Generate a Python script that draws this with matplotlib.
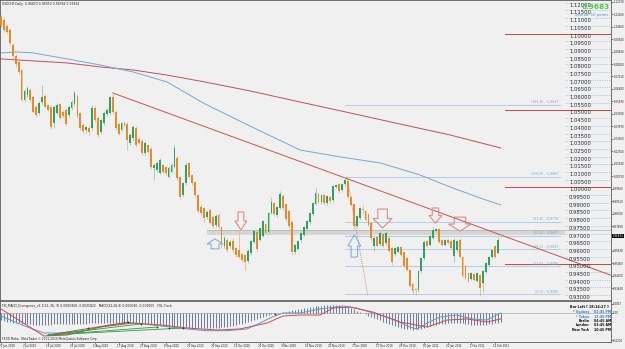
import numpy as np
import matplotlib.pyplot as plt
from matplotlib.patches import Polygon, Rectangle
from matplotlib.transforms import blended_transform_factory as blend

# ---- daily candles, USDCHF, 22 Jun 2010 onwards ----
opens = [1.1108, 1.1088, 1.1049, 1.1023, 1.0926, 1.0854, 1.0815, 1.0763, 1.0568, 1.0601,
         1.0633, 1.0588, 1.0523, 1.0484, 1.0555, 1.0594, 1.0536, 1.0523, 1.0419, 1.0484,
         1.0542, 1.0490, 1.0503, 1.0471, 1.0516, 1.0542, 1.0594, 1.0484, 1.0406, 1.0373,
         1.0386, 1.0386, 1.0516, 1.0451, 1.0360, 1.0419, 1.0477, 1.0484, 1.0588, 1.0490,
         1.0412, 1.0373, 1.0419, 1.0412, 1.0289, 1.0321, 1.0386, 1.0315, 1.0302, 1.0224,
         1.0276, 1.0250, 1.0126, 1.0113, 1.0094, 1.0146, 1.0133, 1.0068, 1.0100, 1.0133,
         1.0191, 1.0068, 0.9951, 1.0029, 1.0159, 1.0081, 1.0035, 0.9951, 0.9873, 0.9866,
         0.9808, 0.9853, 0.9808, 0.9756, 0.9821, 0.9743, 0.9619, 0.9658, 0.9619, 0.9652,
         0.9606, 0.9593, 0.9567, 0.9561, 0.9522, 0.9574, 0.9645, 0.9710, 0.9658, 0.9684,
         0.9762, 0.9710, 0.9834, 0.9899, 0.9821, 0.9866, 0.9944, 0.9892, 0.9847, 0.9775,
         0.9580, 0.9600, 0.9658, 0.9691, 0.9730, 0.9775, 0.9827, 0.9892, 0.9957, 0.9905,
         0.9951, 0.9899, 0.9938, 0.9918, 1.0003, 1.0022, 0.9983, 1.0022, 1.0042, 0.9938,
         0.9892, 0.9749, 0.9801, 0.9860, 0.9847, 0.9827, 0.9769, 0.9619, 0.9678, 0.9632,
         0.9697, 0.9639, 0.9671, 0.9606, 0.9567, 0.9580, 0.9613, 0.9580, 0.9541, 0.9463,
         0.9372, 0.9340, 0.9333, 0.9457, 0.9541, 0.9652, 0.9626, 0.9671, 0.9717, 0.9730,
         0.9658, 0.9626, 0.9658, 0.9652, 0.9554, 0.9593, 0.9658, 0.9548, 0.9489, 0.9444,
         0.9405, 0.9437, 0.9392, 0.9431, 0.9379, 0.9450, 0.9496, 0.9548, 0.9619, 0.9574,
         0.9687]
highs = [1.1121, 1.1108, 1.1062, 1.1036, 1.0939, 1.0867, 1.0828, 1.0770, 1.0640, 1.0659,
         1.0646, 1.0601, 1.0536, 1.0562, 1.0666, 1.0607, 1.0542, 1.0529, 1.0536, 1.0549,
         1.0549, 1.0503, 1.0516, 1.0536, 1.0568, 1.0627, 1.0607, 1.0490, 1.0419, 1.0399,
         1.0399, 1.0536, 1.0529, 1.0464, 1.0445, 1.0497, 1.0516, 1.0594, 1.0614, 1.0503,
         1.0425, 1.0425, 1.0432, 1.0425, 1.0354, 1.0406, 1.0399, 1.0328, 1.0315, 1.0302,
         1.0282, 1.0263, 1.0159, 1.0172, 1.0191, 1.0152, 1.0139, 1.0139, 1.0159, 1.0276,
         1.0204, 1.0074, 1.0035, 1.0165, 1.0165, 1.0087, 1.0042, 0.9957, 0.9886, 0.9873,
         0.9853, 0.9860, 0.9821, 0.9827, 0.9834, 0.9749, 0.9684, 0.9671, 0.9658, 0.9671,
         0.9613, 0.9723, 0.9574, 0.9567, 0.9600, 0.9658, 0.9723, 0.9717, 0.9743, 0.9788,
         0.9769, 0.9840, 0.9938, 0.9905, 0.9879, 0.9977, 0.9957, 0.9899, 0.9853, 0.9788,
         0.9632, 0.9658, 0.9710, 0.9749, 0.9788, 0.9840, 0.9905, 0.9996, 0.9964, 0.9957,
         0.9957, 0.9951, 0.9944, 1.0016, 1.0022, 1.0029, 1.0029, 1.0068, 1.0048, 0.9944,
         0.9899, 0.9821, 0.9873, 0.9886, 0.9853, 0.9834, 0.9775, 0.9678, 0.9684, 0.9717,
         0.9704, 0.9710, 0.9678, 0.9613, 0.9613, 0.9619, 0.9619, 0.9587, 0.9548, 0.9470,
         0.9379, 0.9353, 0.9463, 0.9548, 0.9658, 0.9658, 0.9691, 0.9743, 0.9736, 0.9736,
         0.9665, 0.9665, 0.9665, 0.9658, 0.9671, 0.9658, 0.9671, 0.9554, 0.9496, 0.9450,
         0.9450, 0.9444, 0.9450, 0.9437, 0.9463, 0.9515, 0.9554, 0.9600, 0.9626, 0.9678,
         0.9695]
lows = [1.1043, 1.1010, 1.0997, 1.0926, 1.0841, 1.0789, 1.0737, 1.0562, 1.0555, 1.0588,
        1.0555, 1.0484, 1.0458, 1.0471, 1.0542, 1.0516, 1.0497, 1.0380, 1.0393, 1.0477,
        1.0438, 1.0451, 1.0399, 1.0458, 1.0503, 1.0529, 1.0451, 1.0373, 1.0354, 1.0354,
        1.0341, 1.0373, 1.0425, 1.0328, 1.0347, 1.0406, 1.0464, 1.0471, 1.0477, 1.0373,
        1.0341, 1.0367, 1.0393, 1.0243, 1.0276, 1.0308, 1.0263, 1.0282, 1.0211, 1.0211,
        1.0224, 1.0120, 1.0048, 1.0100, 1.0087, 1.0094, 1.0081, 1.0061, 1.0094, 1.0126,
        1.0048, 0.9925, 0.9938, 1.0016, 1.0061, 1.0016, 0.9938, 0.9834, 0.9821, 0.9775,
        0.9795, 0.9762, 0.9736, 0.9743, 0.9730, 0.9606, 0.9606, 0.9580, 0.9606, 0.9580,
        0.9548, 0.9541, 0.9515, 0.9463, 0.9509, 0.9561, 0.9639, 0.9587, 0.9652, 0.9678,
        0.9697, 0.9697, 0.9827, 0.9814, 0.9808, 0.9860, 0.9853, 0.9782, 0.9736, 0.9561,
        0.9567, 0.9593, 0.9645, 0.9684, 0.9717, 0.9762, 0.9814, 0.9886, 0.9899, 0.9892,
        0.9886, 0.9886, 0.9899, 0.9905, 0.9996, 0.9964, 0.9977, 1.0009, 0.9931, 0.9879,
        0.9736, 0.9736, 0.9788, 0.9827, 0.9782, 0.9749, 0.9658, 0.9587, 0.9613, 0.9619,
        0.9613, 0.9626, 0.9580, 0.9496, 0.9554, 0.9574, 0.9554, 0.9483, 0.9457, 0.9353,
        0.9307, 0.9301, 0.9320, 0.9444, 0.9528, 0.9613, 0.9619, 0.9665, 0.9710, 0.9639,
        0.9619, 0.9619, 0.9632, 0.9600, 0.9515, 0.9580, 0.9541, 0.9418, 0.9405, 0.9385,
        0.9398, 0.9392, 0.9385, 0.9294, 0.9320, 0.9444, 0.9489, 0.9541, 0.9541, 0.9567,
        0.9677]
closes = [1.1056, 1.1023, 1.1010, 1.0939, 1.0854, 1.0802, 1.0750, 1.0568, 1.0627, 1.0646,
          1.0568, 1.0490, 1.0471, 1.0549, 1.0588, 1.0523, 1.0503, 1.0393, 1.0523, 1.0536,
          1.0451, 1.0464, 1.0412, 1.0523, 1.0555, 1.0614, 1.0464, 1.0386, 1.0367, 1.0393,
          1.0360, 1.0516, 1.0438, 1.0341, 1.0438, 1.0484, 1.0503, 1.0588, 1.0490, 1.0386,
          1.0347, 1.0419, 1.0406, 1.0308, 1.0341, 1.0393, 1.0276, 1.0289, 1.0224, 1.0289,
          1.0230, 1.0133, 1.0146, 1.0159, 1.0178, 1.0100, 1.0094, 1.0126, 1.0146, 1.0256,
          1.0061, 0.9938, 1.0029, 1.0146, 1.0068, 1.0029, 0.9951, 0.9847, 0.9834, 0.9801,
          0.9840, 0.9769, 0.9749, 0.9814, 0.9743, 0.9626, 0.9671, 0.9593, 0.9645, 0.9593,
          0.9561, 0.9548, 0.9528, 0.9515, 0.9587, 0.9652, 0.9717, 0.9600, 0.9736, 0.9782,
          0.9704, 0.9834, 0.9905, 0.9827, 0.9873, 0.9957, 0.9866, 0.9795, 0.9749, 0.9580,
          0.9626, 0.9652, 0.9704, 0.9743, 0.9782, 0.9834, 0.9899, 0.9964, 0.9905, 0.9951,
          0.9899, 0.9944, 0.9912, 1.0009, 1.0016, 0.9977, 1.0022, 1.0048, 0.9938, 0.9886,
          0.9749, 0.9814, 0.9866, 0.9853, 0.9788, 0.9756, 0.9671, 0.9671, 0.9619, 0.9704,
          0.9619, 0.9704, 0.9587, 0.9515, 0.9606, 0.9613, 0.9561, 0.9489, 0.9463, 0.9359,
          0.9327, 0.9333, 0.9457, 0.9541, 0.9645, 0.9619, 0.9684, 0.9723, 0.9730, 0.9645,
          0.9626, 0.9658, 0.9639, 0.9606, 0.9658, 0.9652, 0.9548, 0.9424, 0.9411, 0.9392,
          0.9444, 0.9398, 0.9444, 0.9346, 0.9457, 0.9509, 0.9548, 0.9593, 0.9548, 0.9658,
          0.9683]

date_labels = ["22 Jun 2010", "2 Jul 2010", "14 Jul 2010", "26 Jul 2010", "5 Aug 2010",
               "17 Aug 2010", "27 Aug 2010", "8 Sep 2010", "20 Sep 2010", "30 Sep 2010",
               "12 Oct 2010", "22 Oct 2010", "3 Nov 2010", "15 Nov 2010", "25 Nov 2010",
               "7 Dec 2010", "17 Dec 2010", "29 Dec 2010", "10 Jan 2011", "20 Jan 2011",
               "1 Feb 2011", "11 Feb 2011"]
date_bars = [0, 8, 16, 24, 32, 40, 48, 56, 64, 72, 80, 88, 96, 104, 112, 120, 128, 136,
             144, 152, 160, 168]

# moving averages (read at a few bars)
ma_blue_bars = [0, 5.4, 11, 22.5, 33.7, 45, 56.5, 69.4, 84.7, 101.7, 115.3, 129, 142.5, 152.7, 163, 170]
ma_blue_vals = [1.0874, 1.0880, 1.0874, 1.0835, 1.0796, 1.0750, 1.0685, 1.0542, 1.0399, 1.0243,
                1.0198, 1.0159, 1.0081, 1.0003, 0.9931, 0.9886]
ma_red_bars = [0, 22.5, 33.7, 45, 56.5, 69.4, 84.7, 101.7, 118.7, 135.7, 152.7, 170]
ma_red_vals = [1.0835, 1.0809, 1.0783, 1.0763, 1.0730, 1.0685, 1.0627, 1.0555, 1.0484, 1.0412,
               1.0341, 1.0256]

trend_bars = [38, 170]
trend_vals = [1.0614, 0.9691]

grid_levels = [1.120, 1.115, 1.110, 1.105, 1.100, 1.095, 1.090, 1.085, 1.080, 1.075,
               1.070, 1.065, 1.060, 1.055, 1.050, 1.045, 1.040, 1.035, 1.030, 1.025,
               1.020, 1.015, 1.010, 1.005, 1.000, 0.995, 0.990, 0.985, 0.980, 0.975,
               0.970, 0.965, 0.960, 0.955, 0.950, 0.945, 0.940, 0.935, 0.930]
round_levels = [1.10, 1.05, 1.00, 0.95]

fib_names = ["0.0", "23.6", "38.2", "50.0", "61.8", "100.0", "161.8"]
fib_levels = [0.9306, 0.9486, 0.9597, 0.9687, 0.9776, 1.0067, 1.0537]
fib_anchor_bars = [117.7, 124.8]
fib_anchor_vals = [1.0068, 0.9295]

zone_vals = [0.9691, 0.9723]

arrow_dir = ["up", "down", "up", "down", "down", "down"]
arrow_bar = [72.8, 81.6, 120.2, 129.8, 147.8, 156.1]
arrow_tip = [0.9665, 0.9723, 0.9691, 0.9736, 0.9768, 0.9716]
arrow_tail = [0.9600, 0.9840, 0.9547, 0.9859, 0.9866, 0.9807]
arrow_w = [5.4, 4.0, 4.4, 6.5, 4.4, 7.8]

right_ticks = [1.1207, 1.1126, 1.1045, 1.0964, 1.0883, 1.0802, 1.0721, 1.0640, 1.0559, 1.0478,
               1.0397, 1.0316, 1.0235, 1.0154, 1.0073, 0.9992, 0.9911, 0.9830, 0.9749, 0.9587,
               0.9506, 0.9425, 0.9344]

# MACD sub-window
macd_hist = [-0.0055, -0.0060, -0.0064, -0.0068, -0.0071, -0.0074, -0.0077, -0.0079, -0.0081, -0.0083,
             -0.0085, -0.0086, -0.0087, -0.0088, -0.0088, -0.0088, -0.0087, -0.0086, -0.0085, -0.0084,
             -0.0083, -0.0082, -0.0081, -0.0080, -0.0080, -0.0079, -0.0079, -0.0079, -0.0078, -0.0078,
             -0.0077, -0.0077, -0.0076, -0.0076, -0.0075, -0.0075, -0.0075, -0.0074, -0.0074, -0.0074,
             -0.0074, -0.0074, -0.0073, -0.0073, -0.0073, -0.0074, -0.0075, -0.0076, -0.0077, -0.0078,
             -0.0080, -0.0082, -0.0084, -0.0086, -0.0088, -0.0090, -0.0092, -0.0094, -0.0096, -0.0098,
             -0.0100, -0.0102, -0.0104, -0.0106, -0.0108, -0.0110, -0.0111, -0.0112, -0.0113, -0.0113,
             -0.0113, -0.0112, -0.0111, -0.0110, -0.0108, -0.0106, -0.0103, -0.0100, -0.0097, -0.0093,
             -0.0089, -0.0085, -0.0080, -0.0074, -0.0068, -0.0061, -0.0054, -0.0046, -0.0038, -0.0030,
             -0.0023, -0.0016, -0.0010, -0.0005, -0.0001, 0.0003, 0.0007, 0.0011, 0.0015, 0.0019,
             0.0023, 0.0027, 0.0031, 0.0035, 0.0039, 0.0043, 0.0046, 0.0049, 0.0052, 0.0054,
             0.0056, 0.0058, 0.0059, 0.0060, 0.0060, 0.0058, 0.0055, 0.0050, 0.0044, 0.0036,
             0.0027, 0.0017, 0.0008, -0.0001, -0.0010, -0.0019, -0.0028, -0.0037, -0.0046, -0.0055,
             -0.0064, -0.0073, -0.0082, -0.0090, -0.0098, -0.0105, -0.0111, -0.0116, -0.0120, -0.0122,
             -0.0123, -0.0122, -0.0119, -0.0115, -0.0110, -0.0104, -0.0098, -0.0092, -0.0087, -0.0083,
             -0.0080, -0.0078, -0.0076, -0.0075, -0.0074, -0.0074, -0.0075, -0.0077, -0.0080, -0.0083,
             -0.0086, -0.0088, -0.0089, -0.0090, -0.0089, -0.0087, -0.0084, -0.0080, -0.0076, -0.0072,
             -0.0068]
macd_bars = [0, 8, 14.6, 22.5, 29.3, 37, 44, 48.3, 56.5, 63.3, 70, 76.9, 83.7, 88.1, 92.5,
             96, 101.7, 108.5, 116.3, 121, 126.5, 133.3, 139, 141.5, 145, 149.3, 155, 160.5, 165.3, 170]
macd_main = [-0.0022, -0.0096, -0.0148, -0.0148, -0.0126, -0.0089, -0.0072, -0.0081, -0.0101, -0.0118,
             -0.0131, -0.0131, -0.0118, -0.0074, -0.0027, 0.0000, 0.0000, 0.0030, 0.0052, 0.0037,
             0.0000, -0.0044, -0.0104, -0.0118, -0.0074, -0.0030, -0.0015, -0.0044, -0.0052, 0.0000]
signal_bars = [0, 14.6, 22.5, 33.7, 45, 54.4, 63.3, 73.5, 81.3, 90.5, 96, 101.7, 108.5, 113,
               118.7, 126.5, 135.7, 145, 151.7, 158.5, 165.3, 170]
macd_signal = [0.0030, -0.0170, -0.0163, -0.0104, -0.0074, -0.0089, -0.0111, -0.0126, -0.0118, -0.0074,
               -0.0022, -0.0015, -0.0015, 0.0037, 0.0044, 0.0007, -0.0067, -0.0104, -0.0052, -0.0044,
               -0.0067, -0.0044]
div_start = (16, -0.0163)
div_end_bars = [43.2, 47.6, 53.0, 61.9]
div_end_vals = [-0.0067, -0.0081, -0.0104, -0.0111]
div_mark_bars = [29.6, 43.2, 47.6, 53.0, 57.0, 61.9]
div_mark_vals = [-0.0111, -0.0067, -0.0081, -0.0104, -0.0111, -0.0111]

clock_names = ["* Sydney", "* Tokyo", "Berlin", "London", "New York"]
clock_times = ["02:45 PM", "12:45 PM", "04:45 AM", "03:45 AM", "10:45 PM"]

# ---- figure ----
W, H = 625, 349
BG = '#f0f0f0'
fig = plt.figure(figsize=(W / 100, H / 100), dpi=100)
fig.patch.set_facecolor(BG)


def box(x0, y0, x1, y1):
    return [x0 / W, 1 - y1 / H, (x1 - x0) / W, (y1 - y0) / H]


ax = fig.add_axes(box(0, 0, 611, 300))
am = fig.add_axes(box(0, 301, 611, 342))
for a in (ax, am):
    a.set_facecolor(BG)
    a.set_xlim(-0.34, 207.5)
    for s in a.spines.values():
        s.set_color('#5a5a5a')
        s.set_linewidth(0.6)
    a.tick_params(axis='x', bottom=False, labelbottom=False)
ax.set_ylim(0.9268, 1.1218)
am.set_ylim(-0.02146, 0.00888)

# right price scale
ax.yaxis.tick_right()
ax.set_yticks(right_ticks)
ax.set_yticklabels([f'{v:.5f}' for v in right_ticks])
ax.tick_params(axis='y', labelsize=1.9, length=1.2, width=0.4, pad=0.4, colors='#222222')
am.yaxis.tick_right()
am.set_yticks([0.0067, 0.0, -0.0200])
am.set_yticklabels(['0.0067', '0.00', '-0.0200'])
am.tick_params(axis='y', labelsize=1.9, length=1.2, width=0.4, pad=0.4, colors='#222222')

# gray zone and level lines
ax.add_patch(Rectangle((70, zone_vals[0]), 191.8 - 70, zone_vals[1] - zone_vals[0],
                       facecolor='#d6d6d6', edgecolor='none', zorder=1))
ax.plot([70, 207.5], [zone_vals[1], zone_vals[1]], color='#b8b8b8', lw=0.6, zorder=1)

for lv in grid_levels:
    ax.plot([191.8, 207.5], [lv, lv], color='#7fb0da', lw=0.5, ls=(0, (1, 1.5)), zorder=1)
    ax.text(193.2, lv, f'{lv:.5f}', fontsize=3.8, color='#303030', ha='left', va='top', zorder=5)
for lv in round_levels:
    ax.plot([171.4, 207.5], [lv, lv], color='#c84646', lw=0.7, zorder=2)

# fibonacci
for name, lv in zip(fib_names, fib_levels):
    ax.plot([117, 190], [lv, lv], color='#aac8e6', lw=0.6, zorder=1)
    ax.text(189.5, lv + 0.0004, f'({name}) - {lv:.4f}', fontsize=2.4, color='#7ea6cf',
            ha='right', va='bottom', zorder=5)
ax.plot(fib_anchor_bars, fib_anchor_vals, color='#d06060', lw=0.6, ls=(0, (1, 1.5)), zorder=2)

# moving averages and trend line
ax.plot(ma_red_bars, ma_red_vals, color='#c0505a', lw=0.7, zorder=2)
ax.plot(ma_blue_bars, ma_blue_vals, color='#7aa6d0', lw=0.7, zorder=2)
slope = (trend_vals[1] - trend_vals[0]) / (trend_bars[1] - trend_bars[0])
ax.plot([trend_bars[0], 207.5], [trend_vals[0], trend_vals[0] + slope * (207.5 - trend_bars[0])],
        color='#d05050', lw=0.7, zorder=2)

# candles
o, h, l, c = map(np.array, (opens, highs, lows, closes))
x = np.arange(len(c))
up = c >= o
ax.vlines(x[up], l[up], h[up], color='#8fcaa2', lw=0.6, zorder=3)
ax.vlines(x[~up], l[~up], h[~up], color='#e9b887', lw=0.6, zorder=3)
ax.bar(x[up], np.maximum(c - o, 0.0003)[up], bottom=o[up], width=0.62, color='#32a060', zorder=4)
ax.bar(x[~up], np.maximum(o - c, 0.0003)[~up], bottom=c[~up], width=0.62, color='#e8892c', zorder=4)

# block arrows
for d, xb, tip, tail, w in zip(arrow_dir, arrow_bar, arrow_tip, arrow_tail, arrow_w):
    neck = tip + (tail - tip) * 0.5
    pts = [(xb, tip), (xb + w / 2, neck), (xb + w / 4, neck), (xb + w / 4, tail),
           (xb - w / 4, tail), (xb - w / 4, neck), (xb - w / 2, neck)]
    col = '#7fb2dc' if d == 'up' else '#dd8c8c'
    ax.add_patch(Polygon(pts, closed=True, fill=False, edgecolor=col, lw=0.8, zorder=6))

# texts in main window
ax.text(0.004, 0.994, 'USDCHF,Daily  0.96870 0.96950 0.96766 0.96834', transform=ax.transAxes,
        fontsize=2.2, color='#222222', ha='left', va='top')
ax.text(0.998, 0.988, '0.9683', transform=ax.transAxes, fontsize=5.2, color='#44d044',
        fontweight='bold', ha='right', va='top', zorder=7)
ax.text(0.996, 0.958, 'Spread: 50 points', transform=ax.transAxes, fontsize=2.7, color='#4f8fd0',
        ha='right', va='top', zorder=7)
ax.text(1.003, 0.96834, '0.96834', transform=blend(ax.transAxes, ax.transData), fontsize=1.9,
        color='white', ha='left', va='center', clip_on=False,
        bbox=dict(boxstyle='square,pad=0.15', fc='black', ec='none'))

# MACD window
am.axhline(0, color='#9a9a9a', lw=0.4)
am.vlines(x, 0, macd_hist, color='#3d4b78', lw=0.5, zorder=2)
am.plot(macd_bars, macd_main, color='#5b9bd5', lw=0.7, zorder=3)
am.plot(signal_bars, macd_signal, color='#d04a4a', lw=0.7, zorder=3)
am.plot([div_start[0], div_end_bars[0]], [div_start[1], div_end_vals[0]], color='#8a5a2b', lw=0.6, zorder=4)
for xb, v in zip(div_end_bars[1:], div_end_vals[1:]):
    am.plot([div_start[0], xb], [div_start[1], v], color='#2f9a3f', lw=0.6, zorder=4)
am.plot(div_mark_bars, div_mark_vals, ls='none', marker='+', ms=2, mew=0.6, color='#1f4f1f', zorder=5)
am.plot([93.2], [-0.0007], ls='none', marker='+', ms=2, mew=0.6, color='#b02020', zorder=5)

am.text(0.004, 0.93, 'FXI_MACD_Divergence_v1.1(12, 26, 9) 0.0006908 -0.0035822   '
        'MACD(12,26,9) 0.000696 -0.003005   FXL Clock', transform=am.transAxes,
        fontsize=2.2, color='#222222', ha='left', va='top')
am.text(0.004, 0.02, 'FXDD Malta - MetaTrader \u00a9 2001-2010 MetaQuotes Software Corp.',
        transform=am.transAxes, fontsize=2.1, color='#222222', ha='left', va='bottom')

am.text(0.996, 0.86, 'Bar Left [ 18:14:27 ]', transform=am.transAxes, fontsize=2.4,
        fontweight='bold', color='#111111', ha='right', va='center')
for k, (nm, tm) in enumerate(zip(clock_names, clock_times)):
    yy = 0.72 - k * 0.105
    col = '#3a7fd0' if nm.startswith('*') else '#111111'
    am.text(0.965, yy, nm, transform=am.transAxes, fontsize=2.3, color=col,
            fontweight='bold', ha='right', va='center')
    am.text(0.972, yy, tm, transform=am.transAxes, fontsize=2.3, color=col,
            fontweight='bold', ha='left', va='center')

# date axis
tr = blend(am.transData, am.transAxes)
for b, lab in zip(date_bars, date_labels):
    am.text(b - 0.6, -0.04, lab, transform=tr, fontsize=1.9, color='#222222',
            ha='left', va='top', clip_on=False)
    am.plot([b, b], [0, -0.04], transform=tr, color='#555555', lw=0.4, clip_on=False)

fig.savefig('out.png', dpi=100, facecolor=BG)
